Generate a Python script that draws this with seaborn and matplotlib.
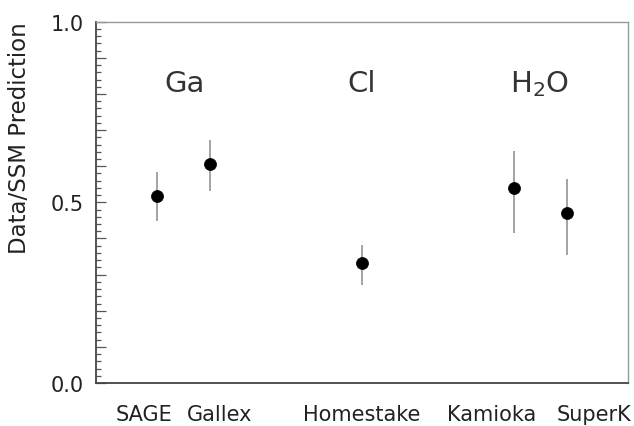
import matplotlib
matplotlib.use("Agg")
import matplotlib.pyplot as plt
from matplotlib.ticker import MultipleLocator, FuncFormatter
import seaborn as sns
import pandas as pd

# Solar neutrino experiments: measured rate relative to the standard solar model
experiments = ["SAGE", "Gallex", "Homestake", "Kamioka", "SuperK"]
positions = [1.15, 2.15, 5.0, 7.85, 8.85]
ratio = [0.518, 0.605, 0.332, 0.541, 0.470]
err_low = [0.069, 0.073, 0.061, 0.126, 0.115]
err_high = [0.067, 0.067, 0.051, 0.102, 0.095]

# Experiment names are spread out along the bottom so they don't collide
label_x = [0.90, 2.32, 5.0, 7.44, 9.36]

# Detector technique groups
group_names = ["Ga", "Cl", "H$_2$O"]
group_x = [1.67, 5.0, 8.33]
group_y = 0.83

df = pd.DataFrame({"experiment": experiments, "x": positions, "ratio": ratio})

sns.set_style("white")
plt.rcParams["font.family"] = ["DejaVu Sans"]

fig = plt.figure(figsize=(6.34, 4.27), dpi=100)
ax = fig.add_axes([0.1514, 0.1007, 0.8391, 0.8461])

ax.errorbar(df["x"], df["ratio"], yerr=[err_low, err_high], fmt="none",
            ecolor="#8a8a8a", elinewidth=1.1, capsize=0, zorder=2)
sns.scatterplot(data=df, x="x", y="ratio", ax=ax, color="black", s=75,
                edgecolor="black", linewidth=0.5, zorder=3, legend=False)

for name, gx in zip(group_names, group_x):
    ax.text(gx, group_y, name, ha="center", va="center", fontsize=21,
            color="#333333")

ax.set_xlim(0, 10)
ax.set_ylim(0, 1.0)
ax.set_xticks(label_x)
ax.set_xticklabels(experiments, fontsize=15, color="#222222")
ax.tick_params(axis="x", bottom=True, length=0, pad=15)

ax.yaxis.set_major_locator(MultipleLocator(0.1))
ax.yaxis.set_minor_locator(MultipleLocator(0.02))
ax.yaxis.set_major_formatter(FuncFormatter(
    lambda v, p: f"{v:.1f}" if abs(v * 2 - round(v * 2)) < 1e-6 else ""))
ax.tick_params(axis="y", which="both", left=True, right=False)
ax.tick_params(axis="y", which="major", direction="in", length=7.5,
               width=0.9, color="#555555", labelsize=15, labelcolor="#222222",
               pad=9)
ax.tick_params(axis="y", which="minor", direction="in", length=3.5,
               width=0.9, color="#555555")

ax.set_xlabel("")
ax.set_ylabel("Data/SSM Prediction", fontsize=16.5, color="#222222")
ax.yaxis.set_label_coords(-0.122, 0.68)

for side in ["left", "bottom"]:
    ax.spines[side].set_color("#444444")
    ax.spines[side].set_linewidth(1.3)
for side in ["top", "right"]:
    ax.spines[side].set_color("#999999")
    ax.spines[side].set_linewidth(1.0)

fig.savefig("out.png", dpi=100, facecolor="white")
